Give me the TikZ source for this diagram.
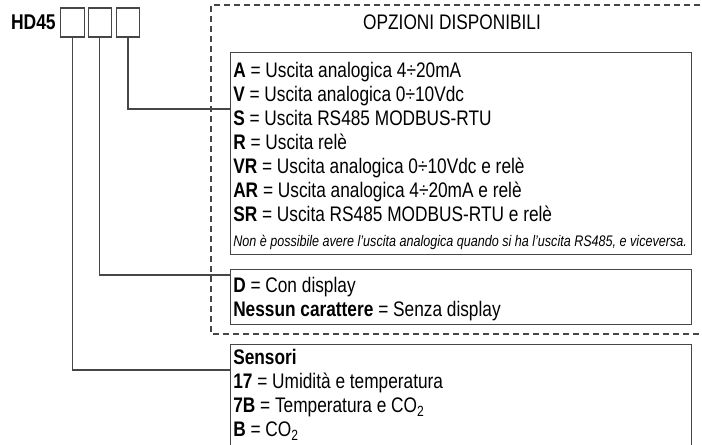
\documentclass[tikz,border=0pt]{standalone}
\usepackage{fontspec}
\setmainfont{Liberation Sans}[FakeStretch=0.82]
\usetikzlibrary{positioning}

\definecolor{linea}{RGB}{70,70,70}
\tikzset{
  codebox/.style={draw=linea,line width=0.8pt,minimum width=17.6pt,minimum height=21.75pt,inner sep=0pt},
  optbox/.style={draw=linea,line width=0.8pt,anchor=north west,minimum width=345.75pt,inner sep=0pt},
  riga/.style={anchor=base west,inner sep=0.75pt,font=\fontsize{15.8}{18}\selectfont},
  nota/.style={anchor=base west,inner sep=0.75pt,font=\itshape\fontsize{11.5}{13}\selectfont},
  link/.style={draw=linea,line width=0.8pt},
}

\begin{document}
\begin{tikzpicture}[x=0.75pt,y=0.75pt,yscale=-1,xscale=1]
\useasboundingbox (0,0) rectangle (702,445);
% codice e caselle
\node [anchor=base east,inner sep=0pt,font=\bfseries\fontsize{16}{18}\selectfont] (hd) at (56,30) {HD45};
\node [codebox] (b1) at (72.5,22.5) {};
\node [codebox] (b2) at (99.8,22.5) {};
\node [codebox] (b3) at (128,22.5) {};
% riquadro tratteggiato delle opzioni
\draw [linea,line width=0.8pt,dash pattern={on 4.5pt off 3pt}] (710,5) -- (211,5) -- (211,334) -- (710,334);
\node [anchor=base,inner sep=0.75pt,font=\fontsize{15.8}{18}\selectfont] (titolo) at (452,30) {OPZIONI DISPONIBILI};
% uscite
\node [optbox,minimum height=151.5pt] (boxA) at (230,52) {};
\draw (232,77.5) node [riga] (tA) {\textbf{A} = Uscita analogica 4÷20mA};
\draw (232,101.5) node [riga] (tV) {\textbf{V} = Uscita analogica 0÷10Vdc};
\draw (232,125.5) node [riga] (tS) {\textbf{S} = Uscita RS485 MODBUS-RTU};
\draw (232,149.5) node [riga] (tR) {\textbf{R} = Uscita relè};
\draw (232,173.5) node [riga] (tVR) {\textbf{VR} = Uscita analogica 0÷10Vdc e relè};
\draw (232,197.5) node [riga] (tAR) {\textbf{AR} = Uscita analogica 4÷20mA e relè};
\draw (232,221.5) node [riga] (tSR) {\textbf{SR} = Uscita RS485 MODBUS-RTU e relè};
\draw (232,246) node [nota] (tNota) {Non è possibile avere l'uscita analogica quando si ha l'uscita RS485, e viceversa.};
% display
\node [optbox,minimum height=41.25pt] (boxD) at (230,269) {};
\draw (232,292.5) node [riga] (tD) {\textbf{D} = Con display};
\draw (232,316.5) node [riga] (tN) {\textbf{Nessun carattere} = Senza display};
% sensori
\node [optbox,minimum height=90pt] (boxS) at (230,344) {};
\draw (232,364.5) node [riga] (tSens) {\textbf{Sensori}};
\draw (232,388.5) node [riga] (t17) {\textbf{17} = Umidità e temperatura};
\draw (232,412.5) node [riga] (t7B) {\textbf{7B} = Temperatura e CO\textsubscript{2}};
\draw (232,436.5) node [riga] (tB) {\textbf{B} = CO\textsubscript{2}};
% collegamenti
\coordinate (pA) at (230,109);
\coordinate (pD) at (230,275);
\coordinate (pS) at (230,370);
\draw [link] (b3.south) |- (pA);
\draw [link] (b2.south) |- (pD);
\draw [link] (b1.south) |- (pS);
\end{tikzpicture}
\end{document}
